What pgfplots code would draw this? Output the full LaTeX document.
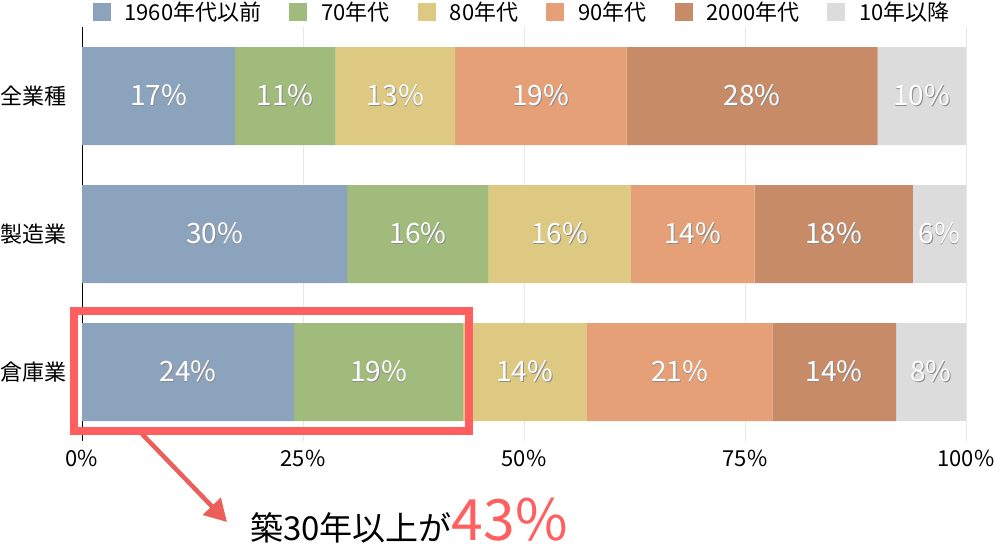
\documentclass[border=0pt]{standalone}
\usepackage{pgfplots}
\pgfplotsset{compat=1.18}
\usepackage{pgfplotstable}
\usepackage{fontspec}
\setmainfont{Noto Sans CJK JP}
\usetikzlibrary{arrows.meta}
\definecolor{c1}{RGB}{139,163,188}
\definecolor{c2}{RGB}{160,187,123}
\definecolor{c3}{RGB}{221,201,130}
\definecolor{c4}{RGB}{229,160,119}
\definecolor{c5}{RGB}{199,139,103}
\definecolor{c6}{RGB}{220,220,220}
\definecolor{hl}{RGB}{255,95,95}
\definecolor{arr}{RGB}{235,95,90}
\newcommand\lbl[1]{\makebox[0pt]{\kern1.2pt\raisebox{-1pt}{\textcolor{black!45}{#1\%}}}\makebox[0pt]{\textcolor{white}{#1\%}}}

\pgfplotstableread{
y v lab
0 17.3 17
1 30.0 30
2 24.0 24
}\tA
\pgfplotstableread{
y v lab
0 11.4 11
1 16.0 16
2 19.1 19
}\tB
\pgfplotstableread{
y v lab
0 13.5 13
1 16.1 16
2 14.0 14
}\tC
\pgfplotstableread{
y v lab
0 19.4 19
1 14.0 14
2 21.0 21
}\tD
\pgfplotstableread{
y v lab
0 28.4 28
1 17.9 18
2 14.0 14
}\tE
\pgfplotstableread{
y v lab
0 10.0 10
1 6.0 6
2 7.9 8
}\tF

\begin{document}
\begin{tikzpicture}[x=1pt,y=1pt]
\useasboundingbox (0,0) rectangle (1000,552);
\begin{axis}[
  at={(82pt,111pt)}, anchor=south west,
  scale only axis, width=884pt, height=414pt,
  xbar stacked, bar width=98pt,
  xmin=0, xmax=100, ymin=-0.5, ymax=2.5, y dir=reverse,
  ytick={0,1,2}, yticklabels={全業種,製造業,倉庫業},
  xtick={0,25,50,75,100}, xticklabels={0\%,25\%,50\%,75\%,100\%},
  major tick length=0pt,
  axis x line*=bottom, axis y line*=left,
  x axis line style={draw=none},
  y axis line style={draw=black, line width=0.8pt, -},
  xmajorgrids, grid style={draw=black!9, line width=0.8pt},
  tick label style={font=\fontsize{22}{26}\selectfont},
  yticklabel style={xshift=-12pt},
  xticklabel style={yshift=-6pt},
  point meta=explicit symbolic,
  nodes near coords={\lbl{\pgfplotspointmeta}},
  every node near coord/.append style={anchor=center, font=\fontsize{28}{32}\selectfont},
  legend columns=6,
  legend image code/.code={\fill[#1] (0pt,-9pt) rectangle (18pt,9pt);},
  legend style={at={(0.498,1.036)}, anchor=center, draw=none, fill=none,
    font=\fontsize{22}{26}\selectfont,
    /tikz/every odd column/.append style={column sep=12pt},
    /tikz/every even column/.append style={column sep=26pt}},
  clip=false
]
\addplot[fill=c1, draw=none] table[x=v, y=y, meta=lab] {\tA};
\addlegendentry{1960年代以前}
\addplot[fill=c2, draw=none] table[x=v, y=y, meta=lab] {\tB};
\addlegendentry{70年代}
\addplot[fill=c3, draw=none] table[x=v, y=y, meta=lab] {\tC};
\addlegendentry{80年代}
\addplot[fill=c4, draw=none] table[x=v, y=y, meta=lab] {\tD};
\addlegendentry{90年代}
\addplot[fill=c5, draw=none] table[x=v, y=y, meta=lab] {\tE};
\addlegendentry{2000年代}
\addplot[fill=c6, draw=none] table[x=v, y=y, meta=lab] {\tF};
\addlegendentry{10年以降}
\end{axis}
\draw[hl, line width=8pt] (74,241) rectangle (469,121);
\draw[arr, line width=4.5pt, -{Triangle[length=22pt,width=24pt]}] (142,118) -- (227,30);
\node[anchor=base west, inner sep=0pt] at (250,12) {\fontsize{33}{36}\selectfont 築30年以上が\textcolor{hl}{\fontsize{57}{60}\selectfont 43\%}};
\end{tikzpicture}
\end{document}
